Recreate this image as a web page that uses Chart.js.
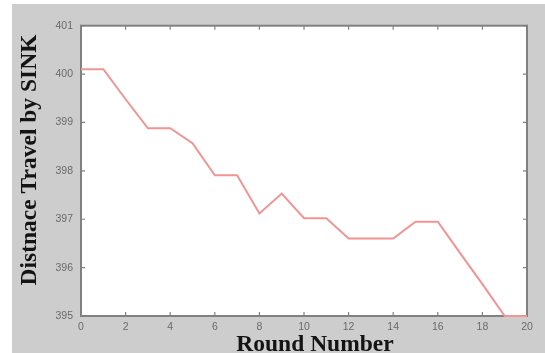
<!DOCTYPE html>
<html>
<head>
<meta charset="utf-8">
<script src="https://cdn.jsdelivr.net/npm/chart.js@4/dist/chart.umd.min.js"></script>
<style>
  html, body { margin: 0; padding: 0; background: #ffffff; }
  #wrap { width: 545px; height: 353px; }
</style>
</head>
<body>
<div id="wrap"><canvas id="c" width="545" height="353"></canvas></div>
<script>
// Round index and the distance travelled by the sink in that round
const rounds = [0, 1, 2, 3, 4, 5, 6, 7, 8, 9, 10, 11, 12, 13, 14, 15, 16, 17, 18, 19, 20];
const distance = [400.1, 400.1, 399.48, 398.88, 398.88, 398.57, 397.91, 397.91, 397.12, 397.53,
                  397.02, 397.02, 396.6, 396.6, 396.6, 396.95, 396.95, 396.3, 395.66, 395.0, 395.0];
const xTicks = [0, 2, 4, 6, 8, 10, 12, 14, 16, 18, 20];
const yTicks = [395, 396, 397, 398, 399, 400, 401];

const xTitle = 'Round Number';
const yTitle = 'Distnace Travel by SINK';

const FIG_BG = '#cdcdcd';
const AXIS_COLOR = '#808080';
const TICK_TEXT = '#6a6a6a';

// Figure background, white axes box, box outline with inward ticks, axis titles
const figurePlugin = {
  id: 'figure',
  beforeDraw(chart) {
    const { ctx, chartArea: a } = chart;
    ctx.save();
    ctx.fillStyle = '#ffffff';
    ctx.fillRect(0, 0, chart.width, chart.height);
    ctx.fillStyle = FIG_BG;
    ctx.fillRect(12, 4, chart.width - 12, chart.height - 4);
    ctx.fillStyle = '#ffffff';
    ctx.fillRect(a.left, a.top, a.right - a.left, a.bottom - a.top);
    ctx.restore();
  },
  beforeDatasetsDraw(chart) {
    const { ctx, chartArea: a, scales } = chart;
    const tl = 4;
    ctx.save();
    ctx.strokeStyle = AXIS_COLOR;
    ctx.lineWidth = 1.2;
    ctx.beginPath();
    xTicks.forEach(v => {
      const px = scales.x.getPixelForValue(v);
      ctx.moveTo(px, a.bottom); ctx.lineTo(px, a.bottom - tl);
      ctx.moveTo(px, a.top); ctx.lineTo(px, a.top + tl);
    });
    yTicks.forEach(v => {
      const py = scales.y.getPixelForValue(v);
      ctx.moveTo(a.left, py); ctx.lineTo(a.left + tl, py);
      ctx.moveTo(a.right, py); ctx.lineTo(a.right - tl, py);
    });
    ctx.stroke();
    ctx.lineWidth = 2;
    ctx.strokeRect(a.left, a.top, a.right - a.left, a.bottom - a.top);
    ctx.restore();
  },
  afterDraw(chart) {
    const { ctx } = chart;
    ctx.save();
    ctx.fillStyle = '#141414';
    ctx.font = 'bold 23.5px "Liberation Serif", serif';
    ctx.textAlign = 'center';
    ctx.textBaseline = 'alphabetic';
    ctx.fillText(xTitle, 315, 350.5);

    ctx.translate(35.5, 160);
    ctx.rotate(-Math.PI / 2);
    ctx.fillText(yTitle, 0, 0);
    ctx.restore();
  }
};

new Chart(document.getElementById('c'), {
  type: 'line',
  data: {
    datasets: [{
      data: rounds.map((r, i) => ({ x: r, y: distance[i] })),
      borderColor: '#f29494',
      borderWidth: 2,
      pointRadius: 0,
      tension: 0,
      fill: false,
      clip: 2
    }]
  },
  options: {
    responsive: false,
    animation: false,
    devicePixelRatio: 1,
    layout: { padding: { top: 25.7, right: 18, left: 0, bottom: 0 } },
    plugins: { legend: { display: false }, tooltip: { enabled: false } },
    scales: {
      x: {
        type: 'linear',
        min: 0, max: 20,
        afterBuildTicks(scale) { scale.ticks = xTicks.map(v => ({ value: v })); },
        afterFit(scale) { scale.height = 37; },
        grid: { display: false, drawTicks: false },
        border: { display: false },
        ticks: {
          padding: 5,
          maxRotation: 0,
          autoSkip: false,
          color: TICK_TEXT,
          font: { family: '"Liberation Sans", Arial, sans-serif', size: 10.5 }
        }
      },
      y: {
        type: 'linear',
        min: 395, max: 401,
        afterBuildTicks(scale) { scale.ticks = yTicks.map(v => ({ value: v })); },
        afterFit(scale) { scale.width = 81; },
        grid: { display: false, drawTicks: false },
        border: { display: false },
        ticks: {
          padding: 8,
          autoSkip: false,
          color: TICK_TEXT,
          font: { family: '"Liberation Sans", Arial, sans-serif', size: 10.5 }
        }
      }
    }
  },
  plugins: [figurePlugin]
});
</script>
</body>
</html>
